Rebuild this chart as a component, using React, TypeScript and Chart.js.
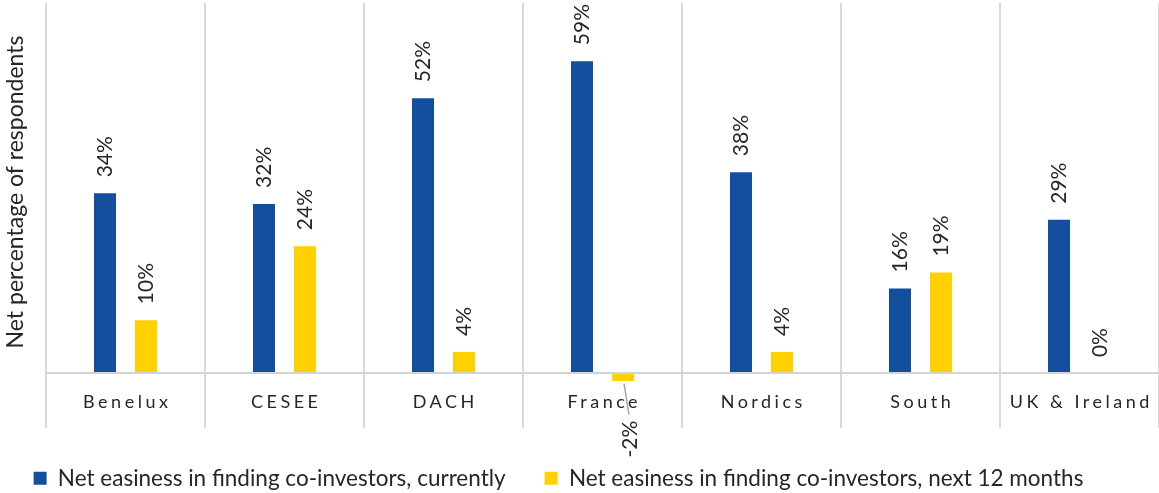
import React, { useEffect, useRef } from 'react';
import { Chart, registerables } from 'chart.js';

Chart.register(...registerables);

const categories = ['Benelux', 'CESEE', 'DACH', 'France', 'Nordics', 'South', 'UK & Ireland'];
const currentValues = [34, 32, 52, 59, 38, 16, 29];
const nextValues = [10, 24, 4, -2, 4, 19, 0];
const seriesLabels = [
  'Net easiness in finding co-investors, currently',
  'Net easiness in finding co-investors, next 12 months',
];
const yAxisTitle = 'Net percentage of respondents';

const FONT = 'Lato, "Open Sans", sans-serif';
const TEXT = '#262626';
const GRID = '#d9d9d9';
const BLUE = '#134F9E';
const YELLOW = '#FFD100';

const barLabelPlugin = {
  id: 'barLabels',
  afterDatasetsDraw(chart: any) {
    const ctx = chart.ctx;
    const y0 = chart.scales.y.getPixelForValue(0);
    chart.data.datasets.forEach((ds: any, di: number) => {
      const meta = chart.getDatasetMeta(di);
      meta.data.forEach((bar: any, i: number) => {
        const v = ds.data[i];
        const txt = v + '%';
        ctx.save();
        ctx.font = `21px ${FONT}`;
        ctx.fillStyle = TEXT;
        ctx.textBaseline = 'middle';
        if (v >= 0) {
          ctx.translate(bar.x, Math.min(bar.y, y0) - 16);
          ctx.rotate(-Math.PI / 2);
          ctx.textAlign = 'left';
          ctx.fillText(txt, 0, 0);
        } else {
          ctx.strokeStyle = '#a6a6a6';
          ctx.lineWidth = 1.5;
          ctx.beginPath();
          ctx.moveTo(bar.x + 1, bar.y);
          ctx.lineTo(bar.x + 6, bar.y + 31);
          ctx.stroke();
          ctx.translate(bar.x + 7, bar.y + 37);
          ctx.rotate(-Math.PI / 2);
          ctx.textAlign = 'right';
          ctx.fillText(txt, 0, 0);
        }
        ctx.restore();
      });
    });
  },
};

const categoryLabelPlugin = {
  id: 'categoryLabels',
  afterDraw(chart: any) {
    const ctx = chart.ctx;
    const xs = chart.scales.x;
    const spacing = 3.5;
    ctx.save();
    ctx.font = `18px ${FONT}`;
    ctx.fillStyle = TEXT;
    ctx.textAlign = 'center';
    ctx.textBaseline = 'middle';
    (ctx as any).letterSpacing = spacing + 'px';
    categories.forEach((c, i) => {
      ctx.fillText(c, xs.getPixelForValue(i) + spacing / 2, chart.chartArea.bottom + 21);
    });
    ctx.restore();
  },
};

const legendShiftPlugin = {
  id: 'legendShift',
  afterLayout(chart: any) {
    const l = chart.legend;
    if (l) {
      l.left -= 21;
      l.right -= 21;
    }
  },
};

export default function App() {
  const canvasRef = useRef<HTMLCanvasElement | null>(null);

  useEffect(() => {
    document.body.style.margin = '0';
    const canvas = canvasRef.current;
    if (!canvas) return;
    const chart = new Chart(canvas, {
      type: 'bar',
      data: {
        labels: categories,
        datasets: [
          {
            label: seriesLabels[0],
            data: currentValues,
            backgroundColor: BLUE,
            borderWidth: 0,
            categoryPercentage: 0.516,
            barPercentage: 0.537,
          },
          {
            label: seriesLabels[1],
            data: nextValues,
            backgroundColor: YELLOW,
            borderWidth: 0,
            categoryPercentage: 0.516,
            barPercentage: 0.537,
          },
        ],
      },
      options: {
        animation: false,
        responsive: false,
        maintainAspectRatio: false,
        layout: { padding: { top: 3, left: 0, right: 0, bottom: -6.5 } },
        plugins: {
          tooltip: { enabled: false },
          legend: {
            position: 'bottom',
            align: 'center',
            labels: {
              boxWidth: 13,
              boxHeight: 13,
              padding: 39,
              color: TEXT,
              font: { family: FONT, size: 22.5 },
            },
          },
        },
        scales: {
          x: {
            offset: true,
            grid: {
              offset: true,
              display: true,
              drawOnChartArea: true,
              drawTicks: true,
              tickLength: 47,
              color: GRID,
              lineWidth: 2,
            },
            border: { display: false },
            ticks: { display: false },
          },
          y: {
            min: -1.5,
            max: 70,
            afterBuildTicks: (scale: any) => {
              scale.ticks = [{ value: 0 }];
            },
            grid: {
              drawTicks: false,
              color: '#d4d4d4',
              lineWidth: 2,
            },
            border: { display: false },
            ticks: { display: false },
            title: {
              display: true,
              text: yAxisTitle,
              color: TEXT,
              font: { family: FONT, size: 23 },
              padding: { top: 2, bottom: 16.4 },
            },
          },
        },
      },
      plugins: [barLabelPlugin, categoryLabelPlugin, legendShiftPlugin],
    });
    return () => chart.destroy();
  }, []);

  return (
    <div style={{ width: 1159, height: 493 }}>
      <canvas ref={canvasRef} width={1159} height={493} style={{ display: 'block' }} />
    </div>
  );
}
